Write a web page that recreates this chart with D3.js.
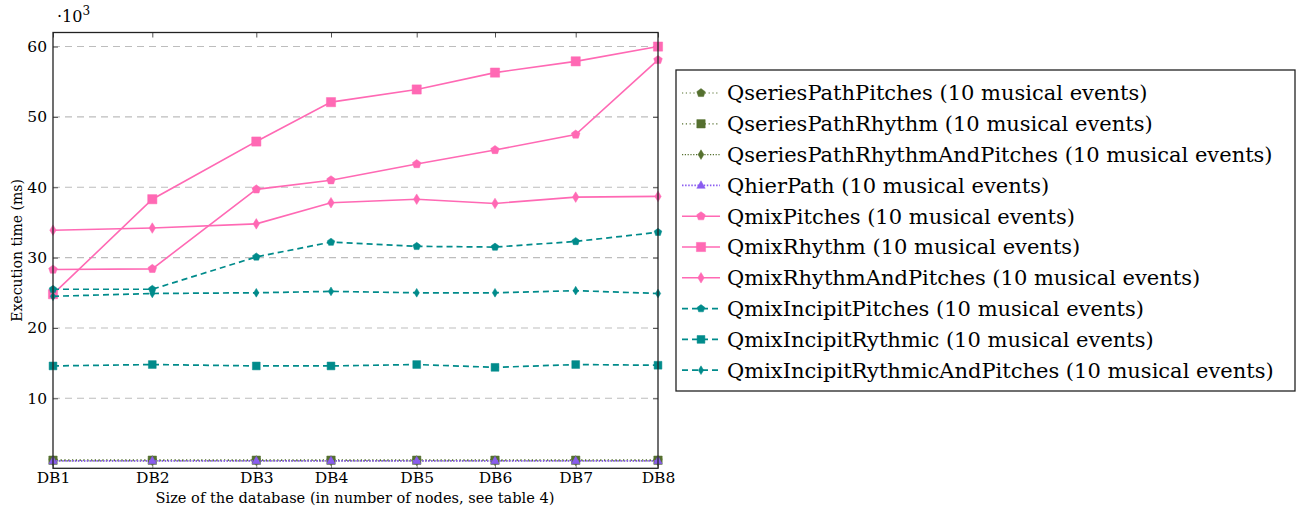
<!DOCTYPE html>
<html><head><meta charset="utf-8">
<script src="https://cdn.jsdelivr.net/npm/d3@7"></script>
<style>body{margin:0;background:#fff}svg{display:block}</style>
</head><body>
<svg id="c" width="1301" height="510"></svg>
<script>
const dbLabels = ["DB1","DB2","DB3","DB4","DB5","DB6","DB7","DB8"];
const dbSizes = [10, 109.3, 213.3, 288, 373.7, 452, 532.7, 615];
const yTicks = [10,20,30,40,50,60];

const qseriesPathPitches = [1.2,1.2,1.2,1.2,1.2,1.2,1.2,1.2];
const qseriesPathRhythm = [1.2,1.2,1.2,1.2,1.2,1.2,1.2,1.2];
const qseriesPathRhythmAndPitches = [1.1,1.1,1.1,1.1,1.1,1.1,1.1,1.1];
const qhierPath = [1.1,1.1,1.1,1.1,1.1,1.1,1.1,1.1];
const qmixPitches = [28.3,28.4,39.7,41.0,43.3,45.3,47.5,58.1];
const qmixRhythm = [24.8,38.3,46.5,52.1,53.9,56.3,57.9,60.0];
const qmixRhythmAndPitches = [33.9,34.2,34.8,37.8,38.3,37.7,38.6,38.7];
const qmixIncipitPitches = [25.5,25.5,30.1,32.2,31.6,31.5,32.3,33.6];
const qmixIncipitRythmic = [14.6,14.8,14.6,14.6,14.8,14.4,14.8,14.7];
const qmixIncipitRythmicAndPitches = [24.5,24.9,25.0,25.2,25.0,25.0,25.3,24.9];

const seriesNames = ["QseriesPathPitches (10 musical events)","QseriesPathRhythm (10 musical events)","QseriesPathRhythmAndPitches (10 musical events)","QhierPath (10 musical events)","QmixPitches (10 musical events)","QmixRhythm (10 musical events)","QmixRhythmAndPitches (10 musical events)","QmixIncipitPitches (10 musical events)","QmixIncipitRythmic (10 musical events)","QmixIncipitRythmicAndPitches (10 musical events)"];
const seriesValues = [qseriesPathPitches,qseriesPathRhythm,qseriesPathRhythmAndPitches,qhierPath,qmixPitches,qmixRhythm,qmixRhythmAndPitches,qmixIncipitPitches,qmixIncipitRythmic,qmixIncipitRythmicAndPitches];

const OLIVE="#55702f", PURPLE="#8a5cf0", PINK="#ff69b4", TEAL="#008b8b";
const styles = [
 {c:OLIVE,dash:"1.2,2.6",w:1.2,m:"pentagon",s:4.2},
 {c:OLIVE,dash:"1.2,2.6",w:1.2,m:"square",s:4.2},
 {c:OLIVE,dash:"1.2,1.6",w:1.2,m:"diamond",s:4.2},
 {c:PURPLE,dash:"1.5,1.6",w:1.6,m:"triangle",s:4.2},
 {c:PINK,dash:null,w:1.6,m:"pentagon",s:4.3},
 {c:PINK,dash:null,w:1.6,m:"square",s:4.6},
 {c:PINK,dash:null,w:1.6,m:"diamond",s:4.6},
 {c:TEAL,dash:"6,4",w:1.7,m:"pentagon",s:3.8},
 {c:TEAL,dash:"6,4",w:1.7,m:"square",s:3.9},
 {c:TEAL,dash:"6,4",w:1.7,m:"diamond",s:3.8}
];

const L=53, R=658, T=32.5, B=468.3;
const x = d3.scaleLinear().domain([dbSizes[0], dbSizes[7]]).range([L,R]);
const y = d3.scaleLinear().domain([0.05, 62]).range([B,T]);
const svg = d3.select("#c");
const serif = "DejaVu Serif";

function markPath(type, s){
  if(type==="square") return `M${-s},${-s}H${s}V${s}H${-s}Z`;
  if(type==="diamond") return `M0,${-s*1.15}L${s*0.7},0L0,${s*1.15}L${-s*0.7},0Z`;
  if(type==="triangle") return `M0,${-s*1.1}L${s},${s*0.7}L${-s},${s*0.7}Z`;
  let p=[]; for(let i=0;i<5;i++){const a=-Math.PI/2+i*2*Math.PI/5; p.push([s*1.05*Math.cos(a), s*1.05*Math.sin(a)]);}
  return "M"+p.map(q=>q.join(",")).join("L")+"Z";
}

svg.append("g").selectAll("line").data(yTicks).join("line")
  .attr("x1",L).attr("x2",R).attr("y1",d=>y(d)).attr("y2",d=>y(d))
  .attr("stroke","#bdbdbd").attr("stroke-width",1.1).attr("stroke-dasharray","7,5");

const yAxis = d3.axisLeft(y).tickValues(yTicks).tickSize(-5).tickPadding(6);
const gy = svg.append("g").attr("transform",`translate(${L},0)`).call(yAxis);
gy.select(".domain").remove();
gy.selectAll("line").attr("stroke","#555");
gy.selectAll("text").attr("font-family",serif).attr("font-size",15.5).attr("fill","#000");
const gyr = svg.append("g").attr("transform",`translate(${R},0)`).call(d3.axisRight(y).tickValues(yTicks).tickSize(-5).tickFormat(""));
gyr.select(".domain").remove(); gyr.selectAll("line").attr("stroke","#555");

const xAxis = d3.axisBottom(x).tickValues(dbSizes).tickFormat((d,i)=>dbLabels[i]).tickSize(-5).tickPadding(4);
const gx = svg.append("g").attr("transform",`translate(0,${B})`).call(xAxis);
gx.select(".domain").remove();
gx.selectAll("line").attr("stroke","#888");
gx.selectAll("text").attr("font-family",serif).attr("font-size",15.5).attr("fill","#000");
const gxt = svg.append("g").attr("transform",`translate(0,${T})`).call(d3.axisTop(x).tickValues(dbSizes).tickSize(-5).tickFormat(""));
gxt.select(".domain").remove(); gxt.selectAll("line").attr("stroke","#555");

const line = d3.line().x((d,i)=>x(dbSizes[i])).y(d=>y(d));
seriesValues.forEach((vals,k)=>{
  const st=styles[k];
  const g=svg.append("g");
  g.append("path").attr("d",line(vals)).attr("fill","none").attr("stroke",st.c)
    .attr("stroke-width",st.w).attr("stroke-dasharray",st.dash);
  g.selectAll("path.m").data(vals).join("path").attr("class","m")
    .attr("transform",(d,i)=>`translate(${x(dbSizes[i])},${y(d)})`)
    .attr("d",markPath(st.m,st.s)).attr("fill",st.c).attr("stroke",st.c).attr("stroke-width",0.5);
});

svg.append("rect").attr("x",L).attr("y",T).attr("width",R-L).attr("height",B-T)
  .attr("fill","none").attr("stroke","#222").attr("stroke-width",1.3);

const mult = svg.append("text").attr("x",57).attr("y",22).attr("font-family",serif).attr("font-size",16);
mult.append("tspan").text("·10");
mult.append("tspan").attr("dy",-7).attr("font-size",12).text("3");
svg.append("text").attr("transform",`translate(22,${(T+B)/2}) rotate(-90)`).attr("text-anchor","middle")
  .attr("font-family",serif).attr("font-size",14).text("Execution time (ms)");
svg.append("text").attr("x",355).attr("y",503).attr("text-anchor","middle")
  .attr("font-family",serif).attr("font-size",14.6).text("Size of the database (in number of nodes, see table 4)");

const LX=676, LY=70, LW=619, LH=321;
svg.append("rect").attr("x",LX).attr("y",LY).attr("width",LW).attr("height",LH)
  .attr("fill","#fff").attr("stroke","#222").attr("stroke-width",1.3);
const rowY = i => 93 + i*30.8;
const texts=[];
seriesNames.forEach((n,k)=>{
  const st=styles[k]; const yy=rowY(k);
  svg.append("line").attr("x1",682).attr("x2",720).attr("y1",yy).attr("y2",yy)
    .attr("stroke",st.c).attr("stroke-width",st.w).attr("stroke-dasharray",st.dash);
  svg.append("path").attr("transform",`translate(701,${yy})`).attr("d",markPath(st.m,st.s))
    .attr("fill",st.c).attr("stroke",st.c).attr("stroke-width",0.5);
  texts.push(svg.append("text").attr("x",727).attr("y",yy).attr("dy","0.35em")
    .attr("font-family",serif).attr("font-size",20).text(n));
});
const longest = texts[2].node().getComputedTextLength();
const fs = 20*546/longest;
texts.forEach(t=>t.attr("font-size",fs));
</script>
</body></html>
